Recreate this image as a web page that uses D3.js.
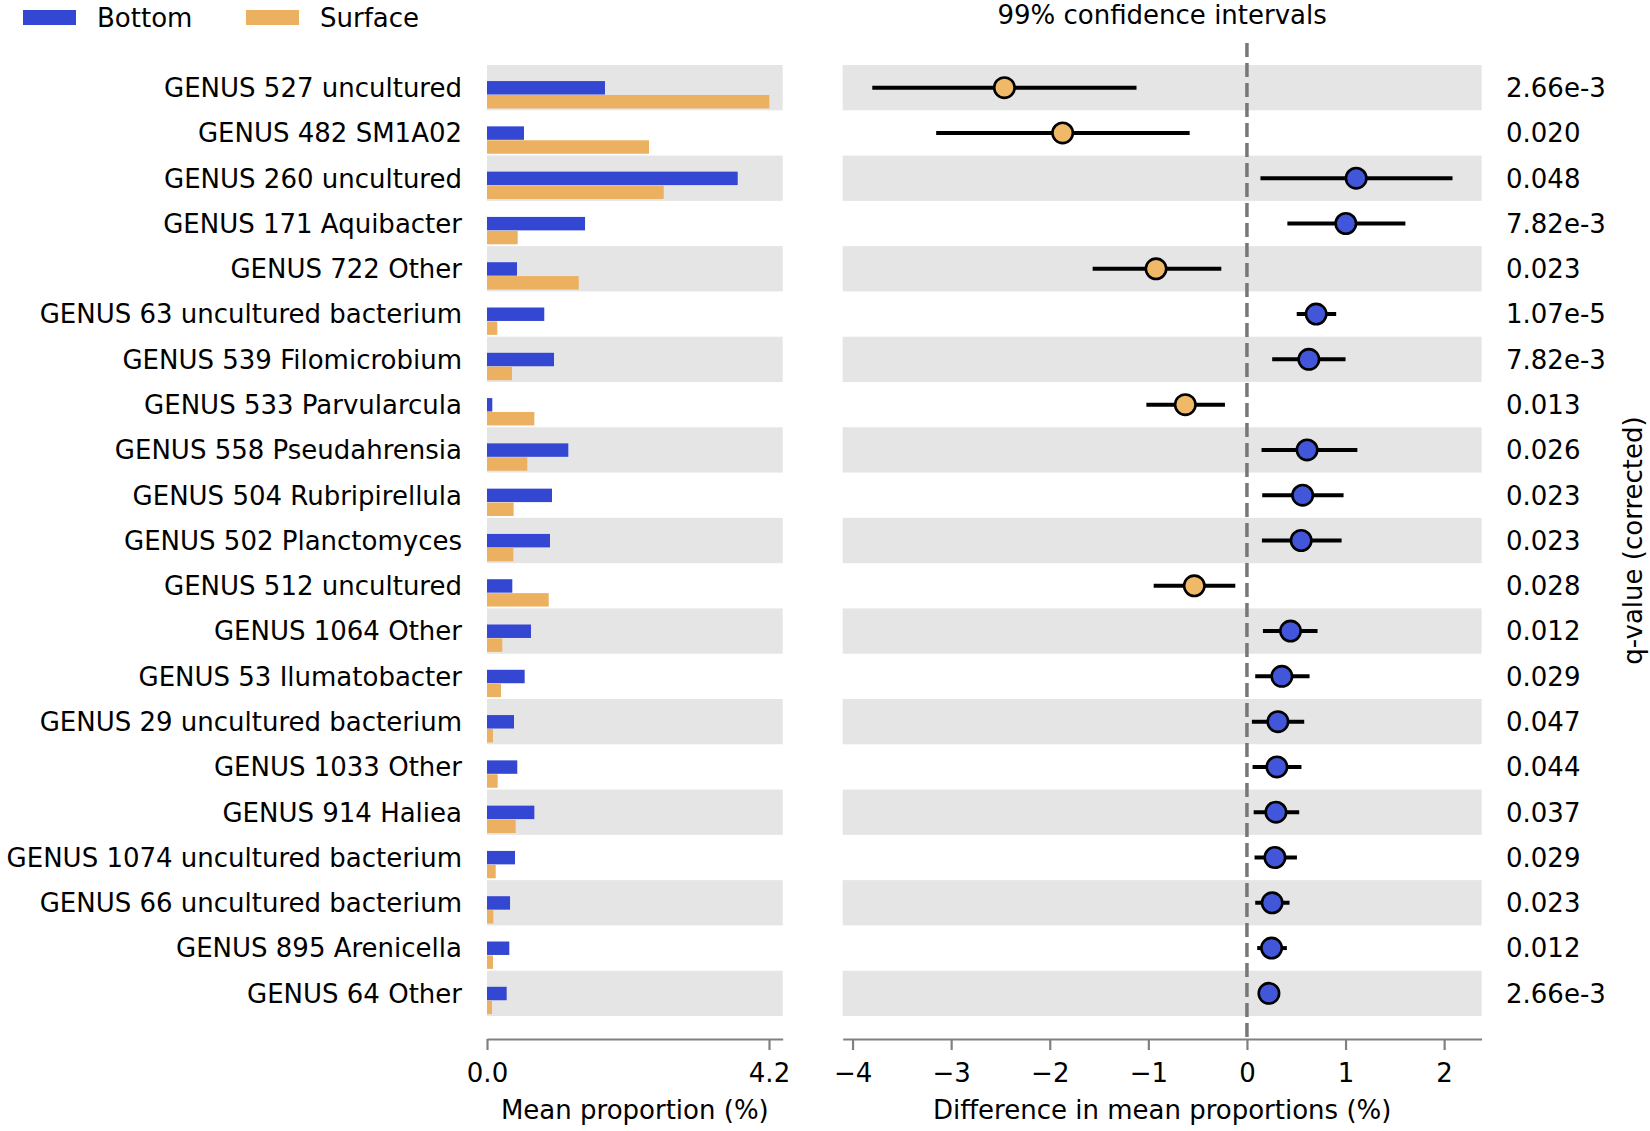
<!DOCTYPE html>
<html>
<head>
<meta charset="utf-8">
<script src="https://cdn.jsdelivr.net/npm/d3@7"></script>
<style>
  body { margin: 0; background: #fff; }
  text { font-family: "DejaVu Sans", sans-serif; font-size: 26px; fill: #000; }
  .axis path, .axis line { stroke: #808080; stroke-width: 2.2; }
  .axis text { font-size: 26px; font-family: "DejaVu Sans", sans-serif; fill: #000; }
</style>
</head>
<body>
<div id="chart"></div>
<script>
// Data
//================================
var genera = [
  "GENUS 527 uncultured", "GENUS 482 SM1A02", "GENUS 260 uncultured",
  "GENUS 171 Aquibacter", "GENUS 722 Other", "GENUS 63 uncultured bacterium",
  "GENUS 539 Filomicrobium", "GENUS 533 Parvularcula", "GENUS 558 Pseudahrensia",
  "GENUS 504 Rubripirellula", "GENUS 502 Planctomyces", "GENUS 512 uncultured",
  "GENUS 1064 Other", "GENUS 53 Ilumatobacter", "GENUS 29 uncultured bacterium",
  "GENUS 1033 Other", "GENUS 914 Haliea", "GENUS 1074 uncultured bacterium",
  "GENUS 66 uncultured bacterium", "GENUS 895 Arenicella", "GENUS 64 Other"
];

// mean proportion (%)
var bottomMean = [1.757, 0.551, 3.734, 1.46, 0.447, 0.853, 0.998, 0.079, 1.211, 0.968, 0.938,
  0.377, 0.655, 0.561, 0.402, 0.451, 0.705, 0.417, 0.343, 0.332, 0.293];
var surfaceMean = [4.205, 2.413, 2.632, 0.457, 1.366, 0.153, 0.372, 0.705, 0.60, 0.397, 0.392,
  0.919, 0.228, 0.209, 0.089, 0.159, 0.427, 0.13, 0.094, 0.089, 0.074];

// difference in mean proportions (%) with 99% CI
var diffMean = [-2.46, -1.869, 1.108, 1.003, -0.922, 0.702, 0.628, -0.625, 0.61, 0.565, 0.55,
  -0.534, 0.442, 0.354, 0.314, 0.304, 0.294, 0.284, 0.256, 0.25, 0.223];
var ciLow = [-3.80, -3.152, 0.137, 0.41, -1.565, 0.505, 0.256, -1.02, 0.148, 0.155, 0.152,
  -0.946, 0.162, 0.084, 0.05, 0.057, 0.068, 0.077, 0.084, 0.104, 0.19];
var ciHigh = [-1.12, -0.581, 2.085, 1.607, -0.26, 0.905, 1.0, -0.223, 1.12, 0.98, 0.96,
  -0.118, 0.716, 0.635, 0.581, 0.553, 0.53, 0.507, 0.432, 0.405, 0.26];

var qValues = ["2.66e-3", "0.020", "0.048", "7.82e-3", "0.023", "1.07e-5", "7.82e-3", "0.013",
  "0.026", "0.023", "0.023", "0.028", "0.012", "0.029", "0.047", "0.044", "0.037", "0.029",
  "0.023", "0.012", "2.66e-3"];

var barTicks = [0, 4.2];
var diffTicks = [-4, -3, -2, -1, 0, 1, 2];

var blue = "#3447d2";
var orange = "#ecb061";
var dotBlue = "#4256da";
var dotOrange = "#f0b968";
var rowGray = "#e5e5e5";

// Step 1: chart setup
//================================
var svgWidth = 1650;
var svgHeight = 1131;

var svg = d3.select("#chart")
  .append("svg")
  .attr("width", svgWidth)
  .attr("height", svgHeight);

var rows = d3.range(genera.length);

var yBand = d3.scaleBand()
  .domain(rows)
  .range([65, 1016])
  .padding(0);

var xBar = d3.scaleLinear()
  .domain([0, 4.404])
  .range([487, 782.7]);

var xDiff = d3.scaleLinear()
  .domain([-4.1, 2.38])
  .range([842.7, 1481.6]);

var axisY = 1039;

// Step 2: row backgrounds
//================================
var striped = rows.filter(i => i % 2 === 0);

svg.append("g").selectAll("rect")
  .data(striped)
  .enter()
  .append("rect")
  .attr("x", xBar.range()[0])
  .attr("y", i => yBand(i))
  .attr("width", xBar.range()[1] - xBar.range()[0])
  .attr("height", yBand.bandwidth())
  .attr("fill", rowGray);

svg.append("g").selectAll("rect")
  .data(striped)
  .enter()
  .append("rect")
  .attr("x", xDiff.range()[0])
  .attr("y", i => yBand(i))
  .attr("width", xDiff.range()[1] - xDiff.range()[0])
  .attr("height", yBand.bandwidth())
  .attr("fill", rowGray);

// Step 3: mean proportion bars
//================================
var bw = yBand.bandwidth();

svg.append("g").selectAll("rect")
  .data(rows)
  .enter()
  .append("rect")
  .attr("x", xBar(0))
  .attr("y", i => yBand(i) + bw * 0.355)
  .attr("width", i => xBar(bottomMean[i]) - xBar(0))
  .attr("height", bw * 0.297)
  .attr("fill", blue);

svg.append("g").selectAll("rect")
  .data(rows)
  .enter()
  .append("rect")
  .attr("x", xBar(0))
  .attr("y", i => yBand(i) + bw * 0.662)
  .attr("width", i => xBar(surfaceMean[i]) - xBar(0))
  .attr("height", bw * 0.297)
  .attr("fill", orange);

// category labels
svg.append("g").selectAll("text")
  .data(rows)
  .enter()
  .append("text")
  .attr("x", 462)
  .attr("y", i => yBand(i) + bw / 2)
  .attr("dy", "0.36em")
  .attr("text-anchor", "end")
  .text(i => genera[i]);

// Step 4: axes
//================================
var barAxis = d3.axisBottom(xBar)
  .tickValues(barTicks)
  .tickFormat(d3.format(".1f"))
  .tickSize(11)
  .tickSizeOuter(0)
  .tickPadding(14);

svg.append("g")
  .attr("class", "axis")
  .attr("transform", `translate(0, ${axisY})`)
  .call(barAxis);

var diffAxis = d3.axisBottom(xDiff)
  .tickValues(diffTicks)
  .tickFormat(d3.format("d"))
  .tickSize(11)
  .tickSizeOuter(0)
  .tickPadding(14);

svg.append("g")
  .attr("class", "axis")
  .attr("transform", `translate(0, ${axisY})`)
  .call(diffAxis);

// zero line
svg.append("line")
  .attr("x1", xDiff(0))
  .attr("x2", xDiff(0))
  .attr("y1", 43)
  .attr("y2", axisY)
  .attr("stroke", "#777")
  .attr("stroke-width", 3.5)
  .attr("stroke-dasharray", "14,6");

// Step 5: confidence intervals and dots
//================================
svg.append("g").selectAll("line")
  .data(rows)
  .enter()
  .append("line")
  .attr("x1", i => xDiff(ciLow[i]))
  .attr("x2", i => xDiff(ciHigh[i]))
  .attr("y1", i => yBand(i) + bw / 2)
  .attr("y2", i => yBand(i) + bw / 2)
  .attr("stroke", "#000")
  .attr("stroke-width", 4);

svg.append("g").selectAll("circle")
  .data(rows)
  .enter()
  .append("circle")
  .attr("cx", i => xDiff(diffMean[i]))
  .attr("cy", i => yBand(i) + bw / 2)
  .attr("r", 10.2)
  .attr("fill", i => diffMean[i] > 0 ? dotBlue : dotOrange)
  .attr("stroke", "#000")
  .attr("stroke-width", 2.6);

// q-values
svg.append("g").selectAll("text")
  .data(rows)
  .enter()
  .append("text")
  .attr("x", 1506)
  .attr("y", i => yBand(i) + bw / 2)
  .attr("dy", "0.36em")
  .text(i => qValues[i]);

// Step 6: titles and legend
//================================
svg.append("text")
  .attr("x", (xBar.range()[0] + xBar.range()[1]) / 2)
  .attr("y", 1119)
  .attr("text-anchor", "middle")
  .text("Mean proportion (%)");

svg.append("text")
  .attr("x", (xDiff.range()[0] + xDiff.range()[1]) / 2)
  .attr("y", 1119)
  .attr("text-anchor", "middle")
  .text("Difference in mean proportions (%)");

svg.append("text")
  .attr("x", (xDiff.range()[0] + xDiff.range()[1]) / 2)
  .attr("y", 24)
  .attr("text-anchor", "middle")
  .text("99% confidence intervals");

svg.append("text")
  .attr("transform", `translate(1642, ${(yBand.range()[0] + yBand.range()[1]) / 2}) rotate(-90)`)
  .attr("text-anchor", "middle")
  .text("q-value (corrected)");

var legendItems = [
  { label: "Bottom", color: blue, x: 23 },
  { label: "Surface", color: orange, x: 246 }
];

var legend = svg.append("g").selectAll("g")
  .data(legendItems)
  .enter()
  .append("g")
  .attr("transform", d => `translate(${d.x}, 0)`);

legend.append("rect")
  .attr("x", 0)
  .attr("y", 10)
  .attr("width", 53)
  .attr("height", 15)
  .attr("fill", d => d.color);

legend.append("text")
  .attr("x", 74)
  .attr("y", 27)
  .text(d => d.label);
</script>
</body>
</html>
